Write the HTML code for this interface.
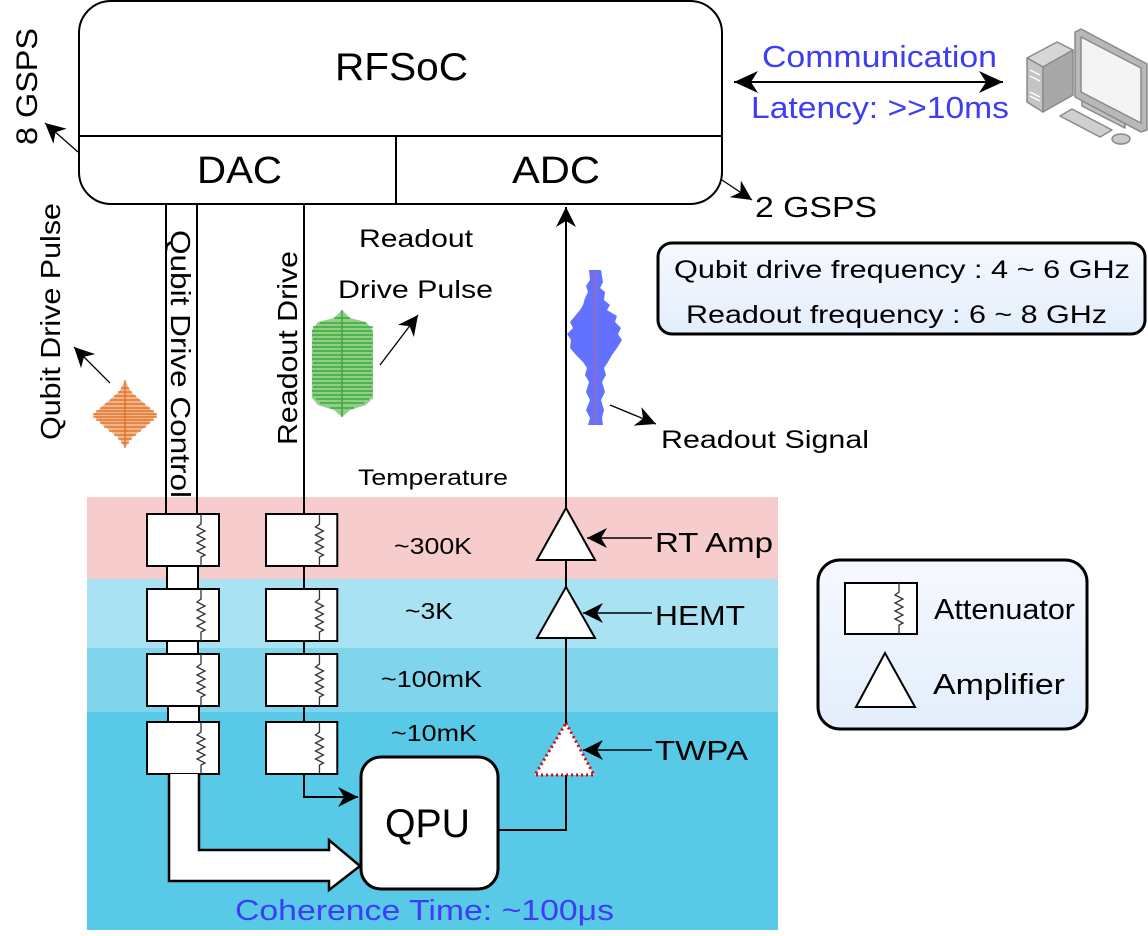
<!DOCTYPE html>
<html><head><meta charset="utf-8"><style>
html,body{margin:0;padding:0;background:#fff;}
svg{display:block;}
text{font-family:"Liberation Sans",Arial,sans-serif;fill:#000;}
</style></head><body>
<svg width="1148" height="936" viewBox="0 0 1148 936" xmlns="http://www.w3.org/2000/svg">
<defs>
<marker id="ah" markerWidth="10" markerHeight="10" refX="9" refY="5" orient="auto" markerUnits="userSpaceOnUse">
<path d="M0,0 L10,5 L0,10 L3,5 Z" fill="#000"/></marker>
<marker id="ahL" markerWidth="22" markerHeight="20" refX="20" refY="10" orient="auto" markerUnits="userSpaceOnUse">
<path d="M0,0 L20,10 L0,20 L6,10 Z" fill="#000"/></marker>
<marker id="ahS" markerWidth="26" markerHeight="22" refX="24" refY="11" orient="auto-start-reverse" markerUnits="userSpaceOnUse">
<path d="M0,0 L24,11 L0,22 L7,11 Z" fill="#000"/></marker>
<linearGradient id="lg" x1="0" y1="0" x2="0" y2="1"><stop offset="0" stop-color="#f6f9ff"/><stop offset="1" stop-color="#e2eefb"/></linearGradient>
<g id="att"><rect x="0" y="0" width="72" height="52" fill="#fff" stroke="#000" stroke-width="2"/>
<path d="M54,0 V10 L50,13 L58,17 L50,21 L58,25 L50,29 L58,33 L50,37 L58,41 L54,43 V52" fill="none" stroke="#333" stroke-width="1.3"/></g>
</defs>

<rect x="87" y="497" width="691" height="82" fill="#f6cccc"/>
<rect x="87" y="579" width="691" height="69" fill="#a9e2f2"/>
<rect x="87" y="648" width="691" height="64" fill="#80d5ec"/>
<rect x="87" y="712" width="691" height="218" fill="#58c9e7"/>

<rect x="79" y="1" width="643" height="203" rx="32" fill="#fff" stroke="#000" stroke-width="2"/>
<line x1="79" y1="136" x2="722" y2="136" stroke="#000" stroke-width="2"/>
<line x1="396" y1="136" x2="396" y2="204" stroke="#000" stroke-width="2"/>
<text x="335" y="80" font-size="39" textLength="133" lengthAdjust="spacingAndGlyphs">RFSoC</text>
<text x="197" y="183" font-size="38" textLength="85" lengthAdjust="spacingAndGlyphs">DAC</text>
<text x="512" y="183" font-size="38" textLength="88" lengthAdjust="spacingAndGlyphs">ADC</text>

<text transform="translate(37,145) rotate(-90)" font-size="30" textLength="117" lengthAdjust="spacingAndGlyphs">8 GSPS</text>
<line x1="78" y1="152" x2="45" y2="123" stroke="#000" stroke-width="1.3" marker-end="url(#ahL)"/>
<line x1="722" y1="180" x2="752" y2="200" stroke="#000" stroke-width="1.3" marker-end="url(#ahL)"/>
<text x="755" y="217" font-size="29" textLength="122" lengthAdjust="spacingAndGlyphs">2 GSPS</text>

<line x1="734" y1="82" x2="1003" y2="82" stroke="#000" stroke-width="2" marker-start="url(#ahS)" marker-end="url(#ahS)"/>
<text x="762" y="67" font-size="31" style="fill:#3d3df5" textLength="235" lengthAdjust="spacingAndGlyphs">Communication</text>
<text x="751" y="118" font-size="31" style="fill:#3d3df5" textLength="258" lengthAdjust="spacingAndGlyphs">Latency: &gt;&gt;10ms</text>

<g stroke="#8a8a8a" stroke-width="1.5" stroke-linejoin="round">
<polygon points="1027,58 1057,42 1073,50 1043,67" fill="#d6d6d6"/>
<polygon points="1027,58 1043,67 1043,112 1027,102" fill="#c4c4c4"/>
<polygon points="1043,67 1073,50 1073,95 1043,112" fill="#a8a8a8"/>
<line x1="1030" y1="70" x2="1040" y2="75" stroke="#fff"/>
<line x1="1030" y1="76" x2="1040" y2="81" stroke="#fff"/>
<line x1="1030" y1="92" x2="1040" y2="97" stroke="#fff"/>
<line x1="1030" y1="96" x2="1040" y2="101" stroke="#fff"/>
<polygon points="1082,100 1125,122 1125,128 1082,106" fill="#c0c0c0"/>
<polygon points="1060,116 1072,109 1112,130 1100,137" fill="#cfcfcf"/>
<polygon points="1075,32 1081,29 1147,64 1147,130 1141,132 1075,97" fill="#b8b8b8"/>
<polygon points="1081,37 1141,68 1141,123 1081,92" fill="#f4f4f4"/>
<ellipse cx="1121" cy="139" rx="9" ry="5" fill="#c8c8c8"/>
</g>

<rect x="658" y="243" width="487" height="91" rx="14" fill="url(#lg)" stroke="#000" stroke-width="3"/>
<text x="674" y="278" font-size="25" textLength="456" lengthAdjust="spacingAndGlyphs">Qubit drive frequency : 4 ~ 6 GHz</text>
<text x="686" y="323" font-size="25" textLength="421" lengthAdjust="spacingAndGlyphs">Readout frequency : 6 ~ 8 GHz</text>

<line x1="166" y1="204" x2="166" y2="515" stroke="#000" stroke-width="2"/>
<line x1="197" y1="204" x2="197" y2="515" stroke="#000" stroke-width="2"/>
<text transform="translate(171,230) rotate(90)" font-size="28" textLength="268" lengthAdjust="spacingAndGlyphs">Qubit Drive Control</text>
<line x1="304" y1="204" x2="304" y2="515" stroke="#000" stroke-width="2"/>
<text transform="translate(297,445) rotate(-90)" font-size="28" textLength="194" lengthAdjust="spacingAndGlyphs">Readout Drive</text>
<text transform="translate(60,440) rotate(-90)" font-size="28" textLength="237" lengthAdjust="spacingAndGlyphs">Qubit Drive Pulse</text>

<!-- orange pulse -->
<path d="M125,380 L131,392 L145,404 L157,415 L145,427 L131,438 L125,448 L119,438 L105,427 L93,415 L105,404 L119,392 Z" fill="#f2b48a"/>
<g stroke="#e06a1c" stroke-width="1.2">
<line x1="125" y1="380" x2="125" y2="448"/>
<line x1="121" y1="388" x2="129" y2="388"/><line x1="118" y1="392" x2="132" y2="392"/>
<line x1="114" y1="396" x2="136" y2="396"/><line x1="110" y1="400" x2="140" y2="400"/>
<line x1="105" y1="404" x2="145" y2="404"/><line x1="100" y1="408" x2="150" y2="408"/>
<line x1="96" y1="411" x2="154" y2="411"/><line x1="93" y1="414" x2="157" y2="414"/>
<line x1="93" y1="417" x2="157" y2="417"/><line x1="96" y1="420" x2="154" y2="420"/>
<line x1="100" y1="423" x2="150" y2="423"/><line x1="104" y1="427" x2="146" y2="427"/>
<line x1="109" y1="431" x2="141" y2="431"/><line x1="114" y1="435" x2="136" y2="435"/>
<line x1="118" y1="439" x2="132" y2="439"/><line x1="121" y1="443" x2="129" y2="443"/>
</g>
<line x1="110" y1="383" x2="74" y2="347" stroke="#000" stroke-width="1.3" marker-end="url(#ahL)"/>

<!-- green pulse -->
<path d="M342,310 L350,318 L366,322 L373,330 L373,398 L366,405 L350,410 L342,417 L334,410 L318,405 L312,398 L312,330 L318,322 L334,318 Z" fill="#8fcf88"/>
<g stroke="#3ea83a" stroke-width="1.5">
<line x1="342" y1="310" x2="342" y2="417"/>
<line x1="334" y1="318" x2="350" y2="318"/><line x1="320" y1="323" x2="366" y2="323"/>
<line x1="313" y1="327" x2="373" y2="327"/><line x1="312" y1="331" x2="372" y2="331"/>
<line x1="312" y1="335" x2="373" y2="335"/><line x1="313" y1="339" x2="372" y2="339"/>
<line x1="312" y1="343" x2="373" y2="343"/><line x1="312" y1="347" x2="372" y2="347"/>
<line x1="313" y1="351" x2="373" y2="351"/><line x1="312" y1="355" x2="372" y2="355"/>
<line x1="312" y1="359" x2="373" y2="359"/><line x1="313" y1="363" x2="372" y2="363"/>
<line x1="312" y1="367" x2="373" y2="367"/><line x1="312" y1="371" x2="372" y2="371"/>
<line x1="313" y1="375" x2="373" y2="375"/><line x1="312" y1="379" x2="372" y2="379"/>
<line x1="312" y1="383" x2="373" y2="383"/><line x1="313" y1="387" x2="372" y2="387"/>
<line x1="312" y1="391" x2="373" y2="391"/><line x1="313" y1="395" x2="372" y2="395"/>
<line x1="316" y1="399" x2="369" y2="399"/><line x1="320" y1="403" x2="364" y2="403"/>
<line x1="330" y1="408" x2="354" y2="408"/>
</g>
<line x1="380" y1="365" x2="418" y2="315" stroke="#000" stroke-width="1.3" marker-end="url(#ahL)"/>
<text x="359" y="247" font-size="25" textLength="114" lengthAdjust="spacingAndGlyphs">Readout</text>
<text x="338" y="298" font-size="25" textLength="155" lengthAdjust="spacingAndGlyphs">Drive Pulse</text>

<!-- blue readout signal -->
<path d="M589,270 L601,270 L603,282 L600,288 L605,292 L604,300 L610,305 L607,310 L617,316 L615,322 L621,328 L618,334 L622,340 L617,348 L612,355 L608,362 L604,368 L606,375 L602,382 L605,392 L601,400 L604,410 L602,418 L603,425 L588,425 L590,418 L586,410 L590,400 L586,392 L589,382 L585,375 L587,368 L583,362 L576,355 L570,348 L571,340 L567,334 L573,328 L570,322 L575,316 L580,310 L583,305 L585,298 L588,292 L586,286 L590,280 Z" fill="#6272ff"/>
<line x1="595" y1="272" x2="595" y2="424" stroke="#e06060" stroke-width="0.8"/>
<line x1="610" y1="405" x2="656" y2="424" stroke="#000" stroke-width="1.3" marker-end="url(#ahL)"/>
<text x="661" y="448" font-size="25" textLength="208" lengthAdjust="spacingAndGlyphs">Readout Signal</text>

<line x1="566" y1="508" x2="566" y2="207" stroke="#000" stroke-width="2" marker-end="url(#ahL)"/>

<text x="358" y="485" font-size="22" textLength="150" lengthAdjust="spacingAndGlyphs">Temperature</text>

<g stroke="#000" stroke-width="2" fill="#fff">
<rect x="167" y="566" width="31" height="23"/>
<rect x="167" y="641" width="31" height="13"/>
<rect x="168" y="706" width="31" height="16"/>
</g>
<line x1="304" y1="566" x2="304" y2="589" stroke="#000" stroke-width="2"/>
<line x1="304" y1="641" x2="304" y2="654" stroke="#000" stroke-width="2"/>
<line x1="304" y1="706" x2="304" y2="722" stroke="#000" stroke-width="2"/>

<use href="#att" transform="translate(147,514)"/>
<use href="#att" transform="translate(147,589)"/>
<use href="#att" transform="translate(147,654)"/>
<use href="#att" transform="translate(147,722)"/>
<use href="#att" transform="translate(266,514) scale(0.99,1)"/>
<use href="#att" transform="translate(266,589) scale(0.99,1)"/>
<use href="#att" transform="translate(266,654) scale(0.99,1)"/>
<use href="#att" transform="translate(266,722) scale(0.99,1)"/>

<path d="M169,774 V881 H329 V890 L360,866 L329,840 V850 H199 V774" fill="#fff" stroke="#000" stroke-width="2.5" stroke-linejoin="miter"/>

<path d="M304,774 V797 H358" fill="none" stroke="#000" stroke-width="2" marker-end="url(#ahL)"/>

<rect x="361" y="757" width="137" height="132" rx="20" fill="#fff" stroke="#000" stroke-width="3"/>
<text x="385" y="837" font-size="40" textLength="85" lengthAdjust="spacingAndGlyphs">QPU</text>
<path d="M498,830 H566 V775" fill="none" stroke="#000" stroke-width="2"/>
<line x1="566" y1="723" x2="566" y2="638" stroke="#000" stroke-width="2"/>
<line x1="566" y1="587" x2="566" y2="560" stroke="#000" stroke-width="2"/>

<polygon points="566,508 595,560 537,560" fill="#fff" stroke="#000" stroke-width="2"/>
<polygon points="566,587 595,638 537,638" fill="#fff" stroke="#000" stroke-width="2"/>
<polygon points="566,723 594,775 535,775" fill="#fff" stroke="#e00000" stroke-width="3" stroke-dasharray="2,3"/>
<line x1="652" y1="538" x2="587" y2="538" stroke="#000" stroke-width="1.5" marker-end="url(#ahL)"/>
<line x1="652" y1="613" x2="583" y2="613" stroke="#000" stroke-width="1.5" marker-end="url(#ahL)"/>
<line x1="652" y1="750" x2="583" y2="750" stroke="#000" stroke-width="1.5" marker-end="url(#ahL)"/>
<text x="655" y="552" font-size="28" textLength="118" lengthAdjust="spacingAndGlyphs">RT Amp</text>
<text x="655" y="625" font-size="28" textLength="90" lengthAdjust="spacingAndGlyphs">HEMT</text>
<text x="655" y="760" font-size="28" textLength="93" lengthAdjust="spacingAndGlyphs">TWPA</text>

<text x="394" y="554" font-size="23" textLength="78" lengthAdjust="spacingAndGlyphs">~300K</text>
<text x="405" y="619" font-size="23" textLength="48" lengthAdjust="spacingAndGlyphs">~3K</text>
<text x="381" y="687" font-size="23" textLength="101" lengthAdjust="spacingAndGlyphs">~100mK</text>
<text x="391" y="741" font-size="23" textLength="86" lengthAdjust="spacingAndGlyphs">~10mK</text>

<text x="235" y="920" font-size="29" style="fill:#3d3df5" textLength="379" lengthAdjust="spacingAndGlyphs">Coherence Time: ~100μs</text>

<rect x="818" y="560" width="269" height="169" rx="22" fill="url(#lg)" stroke="#000" stroke-width="3"/>
<rect x="845" y="583" width="72" height="51" fill="#fff" stroke="#000" stroke-width="2"/>
<path d="M899,583 V592 L895,595 L903,599 L895,603 L903,607 L895,611 L903,615 L895,619 L903,623 L899,625 V634" fill="none" stroke="#333" stroke-width="1.3"/>
<polygon points="885,653 915,707 856,707" fill="#fff" stroke="#000" stroke-width="2"/>
<text x="934" y="619" font-size="29" textLength="141" lengthAdjust="spacingAndGlyphs">Attenuator</text>
<text x="933" y="694" font-size="29" textLength="132" lengthAdjust="spacingAndGlyphs">Amplifier</text>
</svg>
</body></html>
